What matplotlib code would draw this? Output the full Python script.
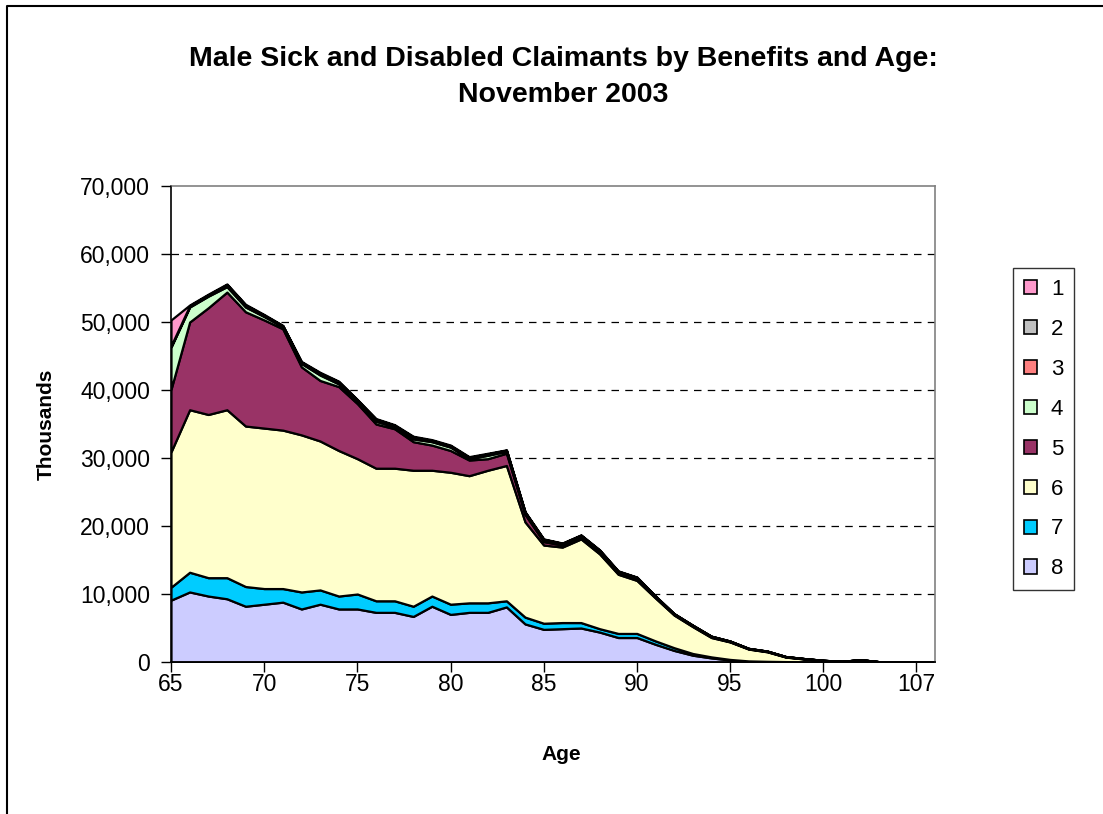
import matplotlib
matplotlib.use("Agg")
import matplotlib.pyplot as plt
from matplotlib.patches import Patch
from matplotlib.lines import Line2D
from matplotlib.ticker import FuncFormatter

plt.rcParams['font.family'] = ['Liberation Sans', 'DejaVu Sans']

# ages (category axis, last few ages are not consecutive)
ages = list(range(65, 101)) + [101, 102, 103, 104, 107, 108]

# values, in claimants (stacked from 8 at the bottom up to 1)
s8 = [9100, 10300, 9700, 9300, 8200, 8500, 8800, 7800, 8500, 7800,
      7800, 7300, 7300, 6700, 8200, 7000, 7300, 7300, 8100, 5600,
      4800, 4900, 5000, 4400, 3600, 3600, 2600, 1700, 1000, 600,
      300, 120, 70, 40, 20, 10, 0, 0, 0, 0, 0, 0]
s7 = [1900, 2900, 2700, 3100, 2900, 2300, 2000, 2500, 2100, 1900,
      2200, 1700, 1700, 1500, 1500, 1500, 1400, 1400, 900, 1000,
      900, 900, 800, 500, 600, 600, 500, 400, 250, 150,
      80, 40, 30, 20, 10, 10, 10, 10, 0, 0, 0, 0]
s6 = [19900, 23900, 24000, 24700, 23600, 23600, 23300, 23100, 21900, 21400,
      19900, 19500, 19500, 20000, 18500, 19400, 18700, 19500, 19900, 14000,
      11500, 11100, 12300, 11000, 8700, 7800, 6300, 4800, 3950, 2850,
      2570, 1740, 1400, 660, 410, 190, 70, 290, 40, 10, 10, 0]
s5 = [9200, 12900, 15700, 17300, 16800, 15900, 14900, 10000, 8900, 9400,
      8100, 6500, 5800, 4200, 3700, 3200, 2300, 1700, 1800, 1100,
      500, 300, 300, 300, 200, 200, 150, 100, 100, 100,
      50, 50, 50, 40, 30, 20, 10, 30, 5, 0, 0, 0]
s4 = [6200, 2200, 1700, 800, 700, 500, 300, 500, 800, 400,
      300, 400, 300, 400, 500, 500, 200, 500, 300, 200,
      200, 100, 100, 100, 100, 100, 50, 50, 50, 50,
      50, 30, 30, 20, 20, 10, 10, 10, 0, 0, 0, 0]
s3 = [100, 100, 100, 150, 150, 100, 100, 100, 150, 150,
      100, 150, 100, 150, 100, 100, 100, 100, 100, 100,
      100, 100, 100, 100, 100, 100, 50, 30, 30, 20,
      20, 10, 10, 10, 5, 5, 0, 0, 0, 0, 0, 0]
s2 = [100, 100, 100, 150, 150, 100, 50, 100, 150, 150,
      100, 150, 100, 150, 100, 100, 100, 100, 50, 50,
      50, 50, 50, 50, 50, 50, 30, 20, 20, 20,
      10, 10, 10, 5, 5, 5, 0, 0, 0, 0, 0, 0]
s1 = [3800, 100, 100, 100, 100, 100, 50, 100, 100, 100,
      100, 100, 100, 100, 100, 100, 100, 100, 50, 50,
      50, 50, 50, 50, 50, 50, 20, 20, 20, 10,
      10, 10, 10, 5, 5, 5, 0, 0, 0, 0, 0, 0]

names = ['1', '2', '3', '4', '5', '6', '7', '8']
colors = ['#FF99CC', '#C0C0C0', '#FF8080', '#CCFFCC',
          '#993366', '#FFFFCC', '#00CCFF', '#CCCCFF']

fig = plt.figure(figsize=(11.03, 8.14), dpi=100)
ax = fig.add_axes([171/1103, 1-662/814, (935-171)/1103, (662-186)/814])

x = list(range(len(ages)))
series = [s8, s7, s6, s5, s4, s3, s2, s1]
ax.stackplot(x, *series, colors=colors[::-1], edgecolor='black', linewidth=1.6)

ax.set_xlim(0, len(ages) - 1)
ax.set_ylim(0, 70000)
ax.set_yticks(range(0, 70001, 10000))
ax.yaxis.set_major_formatter(FuncFormatter(lambda v, p: f"{int(v):,}"))
ticks = list(range(0, len(ages), 5))
ax.set_xticks(ticks)
ax.set_xticklabels([str(ages[i]) for i in ticks])
ax.tick_params(axis='both', direction='out', length=7, width=1, labelsize=16.5, colors='black')
ax.tick_params(axis='x', pad=1)
ax.tick_params(axis='y', pad=8)

for v in range(10000, 70000, 10000):
    ax.axhline(v, color='black', linewidth=0.9, dashes=(6, 5), zorder=0.5)

ax.spines['left'].set_color('black')
ax.spines['bottom'].set_color('black')
ax.spines['top'].set_color('#808080')
ax.spines['right'].set_color('#808080')
for s in ax.spines.values():
    s.set_linewidth(1.2)
ax.set_axisbelow(False)

fig.text(561/1103, 1-755/814, 'Age', ha='center', va='center', fontsize=15, fontweight='bold')
fig.text(46/1103, 1-424/814, 'Thousands', ha='center', va='center', rotation=90,
         fontsize=15, fontweight='bold')

fig.text(563/1103, 1-77/814, 'Male Sick and Disabled Claimants by Benefits and Age:\nNovember 2003',
         ha='center', va='center', fontsize=20.5, fontweight='bold', linespacing=1.5)

handles = [Patch(facecolor=c, edgecolor='black', linewidth=1.2) for c in colors]
leg = fig.legend(handles, names, loc='upper left', bbox_to_anchor=(1013/1103, 1-268/814),
                 fontsize=16, frameon=True, fancybox=False, handlelength=0.6, handleheight=0.6,
                 handletextpad=0.6, labelspacing=0.85, borderpad=0.5, borderaxespad=0)
leg.get_frame().set_edgecolor('black')
leg.get_frame().set_linewidth(1.0)

# outer chart border (only the left and top edges are in the picture)
fig.add_artist(Line2D([7/1103, 7/1103, 1.0], [0.0, 1-6/814, 1-6/814],
                      transform=fig.transFigure, color='black', linewidth=1.5))

fig.savefig('out.png', dpi=100)
